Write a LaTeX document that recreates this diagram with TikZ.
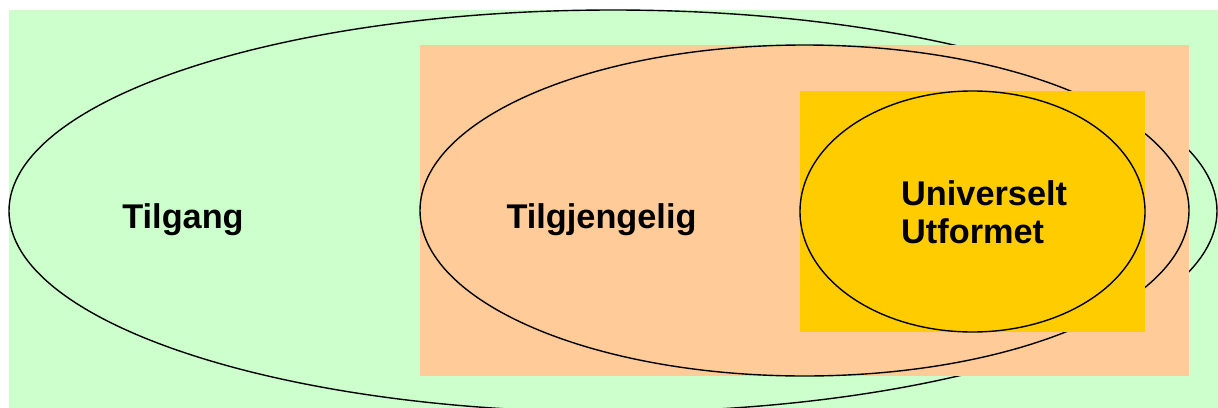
\documentclass[tikz,border=0pt]{standalone}
\usepackage{fontspec}
\setmainfont{Liberation Sans}
\definecolor{lgreen}{HTML}{CCFFCC}
\definecolor{lorange}{HTML}{FFCC99}
\definecolor{lyellow}{HTML}{FFCC00}
\tikzset{
  ring/.style={draw=black, line width=1.4pt},
  lbl/.style={font=\fontsize{34.3}{38}\selectfont\bfseries, inner sep=0pt, anchor=base},
}
\begin{document}
\begin{tikzpicture}[x=1pt,y=-1pt]
\useasboundingbox (0,0) rectangle (1218,407);
\clip (0,0) rectangle (1218,407);
\fill[lgreen] (9,10) rectangle (1220,410);
\draw[ring] (613,211) ellipse [x radius=604, y radius=201];
\fill[lorange] (420,45) rectangle (1189,376);
\draw[ring] (804.5,210.5) ellipse [x radius=384.5, y radius=165.5];
\fill[lyellow] (800,91) rectangle (1145,332);
\draw[ring, fill=lyellow] (972.5,211.5) ellipse [x radius=172.5, y radius=120.5];
\node[lbl] (tilgang) at (183,228) {Tilgang};
\node[lbl] (tilgj) at (601.5,228.5) {Tilgjengelig};
\node[lbl, anchor=base west, align=left] (univ) at (901,243) {Universelt\\Utformet};
\end{tikzpicture}
\end{document}
